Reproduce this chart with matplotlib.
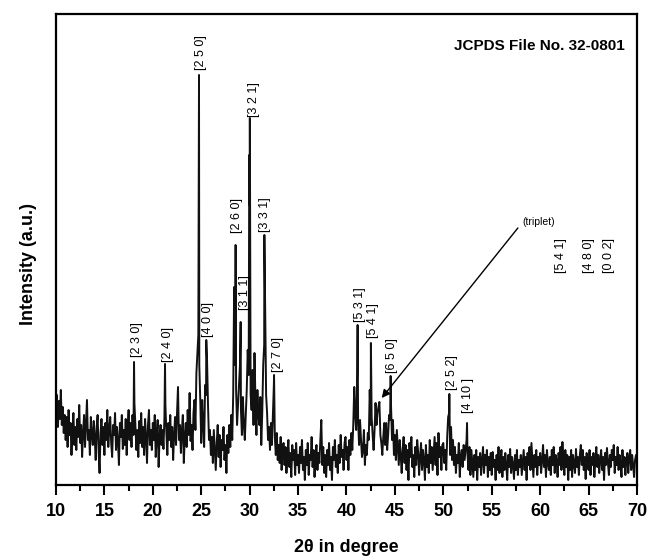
import numpy as np
import matplotlib.pyplot as plt
from matplotlib.ticker import MultipleLocator

plt.rcParams['font.family'] = ['Liberation Sans', 'DejaVu Sans']

# Background counts, one row per degree (10.0 .. 69.9, step 0.1), plus 70.0
bg_rows = [
    [72, 90, 58, 84, 66, 95, 60, 78, 52, 70],
    [45, 68, 38, 75, 50, 62, 30, 55, 72, 40],
    [58, 35, 66, 48, 80, 42, 60, 28, 52, 70],
    [38, 62, 85, 45, 55, 30, 68, 50, 40, 64],
    [48, 25, 58, 70, 35, 12, 52, 66, 40, 58],
    [30, 62, 45, 75, 38, 55, 68, 42, 28, 60],
    [50, 72, 35, 58, 44, 20, 62, 48, 70, 36],
    [55, 40, 66, 30, 58, 75, 45, 62, 38, 70],
    [50, 82, 60, 35, 55, 28, 64, 42, 72, 38],
    [58, 30, 66, 48, 22, 60, 75, 40, 55, 35],
    [62, 45, 70, 28, 50, 65, 18, 48, 60, 40],
    [55, 36, 68, 80, 52, 30, 62, 45, 70, 38],
    [58, 25, 50, 68, 40, 72, 98, 45, 60, 32],
    [55, 70, 22, 48, 62, 38, 75, 50, 92, 44],
    [60, 35, 72, 85, 55, 112, 130, 150, 120, 85],
    [42, 85, 60, 38, 100, 90, 125, 80, 45, 55],
    [30, 48, 22, 55, 35, 15, 42, 60, 28, 50],
    [18, 45, 35, 58, 25, 40, 12, 50, 32, 60],
    [38, 70, 45, 90, 198, 120, 95, 60, 80, 100],
    [120, 75, 50, 88, 60, 45, 70, 95, 135, 110],
    [280, 90, 75, 115, 60, 132, 85, 50, 95, 70],
    [60, 88, 40, 72, 120, 140, 178, 90, 72, 45],
    [58, 35, 62, 40, 70, 100, 48, 30, 52, 25],
    [40, 22, 48, 15, 35, 42, 20, 38, 12, 30],
    [45, 18, 32, 8, 40, 25, 35, 10, 42, 20],
    [30, 12, 38, 22, 45, 15, 28, 5, 35, 20],
    [42, 10, 30, 25, 48, 18, 35, 8, 28, 40],
    [15, 32, 22, 45, 65, 20, 38, 12, 30, 8],
    [35, 20, 42, 15, 28, 5, 38, 25, 45, 18],
    [30, 12, 40, 22, 50, 28, 35, 15, 42, 48],
    [25, 38, 15, 45, 30, 52, 35, 60, 98, 70],
    [55, 110, 65, 40, 65, 45, 28, 35, 55, 20],
    [40, 30, 52, 45, 95, 60, 68, 50, 35, 55],
    [82, 60, 72, 78, 83, 50, 42, 30, 48, 62],
    [40, 62, 35, 50, 70, 65, 80, 45, 65, 30],
    [50, 25, 55, 38, 20, 45, 30, 12, 35, 48],
    [22, 40, 15, 35, 5, 42, 28, 48, 18, 30],
    [8, 38, 20, 45, 33, 10, 28, 42, 15, 35],
    [25, 5, 40, 18, 30, 12, 45, 22, 38, 15],
    [32, 48, 20, 42, 10, 52, 28, 38, 15, 40],
    [42, 22, 35, 15, 48, 68, 72, 30, 58, 25],
    [45, 20, 38, 12, 30, 22, 42, 8, 28, 35],
    [18, 40, 25, 35, 45, 30, 15, 38, 10, 35],
    [22, 8, 30, 15, 35, 5, 28, 18, 32, 10],
    [25, 38, 12, 30, 20, 35, 8, 28, 15, 32],
    [10, 33, 18, 25, 5, 30, 15, 38, 12, 22],
    [35, 8, 28, 15, 32, 20, 5, 30, 18, 36],
    [12, 28, 20, 6, 30, 15, 35, 10, 25, 18],
    [30, 10, 22, 35, 15, 28, 5, 32, 20, 38],
    [15, 42, 25, 8, 30, 18, 35, 10, 28, 20],
    [32, 12, 25, 40, 18, 30, 8, 35, 22, 15],
    [28, 10, 35, 20, 38, 12, 30, 25, 8, 32],
    [20, 38, 15, 43, 25, 10, 35, 18, 30, 5],
    [28, 15, 35, 8, 30, 22, 12, 36, 18, 28],
    [10, 30, 40, 20, 35, 15, 28, 6, 32, 22],
    [15, 35, 10, 28, 20, 32, 8, 25, 38, 18],
    [30, 12, 25, 35, 15, 28, 5, 32, 20, 37],
    [22, 10, 30, 18, 35, 25, 40, 12, 28, 20],
    [38, 15, 30, 22, 8, 35, 18, 28, 10, 25],
    [32, 12, 28, 35, 15, 30, 20, 8, 25, 30],
]
bg_last = 22

# Sharp reflections (2theta, intensity)
peak_pos = [18.06, 21.26, 24.77, 25.52, 28.55, 29.07, 29.96, 30.02,
            31.52, 32.52, 41.15, 42.52, 44.56, 50.62, 52.45]
peak_int = [123, 121, 410, 145, 240, 163, 330, 367,
            250, 110, 160, 142, 109, 91, 62]

# hkl labels: text, x, bottom of label
hkl_text = ["[2 3 0]", "[2 4 0]", "[2 5 0]", "[4 0 0]", "[2 6 0]", "[3 1 1]",
            "[3 2 1]", "[3 3 1]", "[2 7 0]", "[5 3 1]", "[5 4 1]", "[6 5 0]",
            "[2 5 2]", "[4 10 ]", "[5 4 1]", "[4 8 0]", "[0 0 2]"]
hkl_x = [18.37, 21.57, 24.97, 25.70, 28.69, 29.52, 30.45, 31.58, 32.93,
         41.40, 42.74, 44.70, 50.90, 52.55, 62.2, 65.0, 67.1]
hkl_y = [128, 123, 415, 148, 252, 175, 368, 253, 113,
         163, 147, 112, 95, 72, 212, 212, 212]

bg = np.array([v for row in bg_rows for v in row] + [bg_last], dtype=float)
tt = np.round(np.arange(len(bg)) * 0.1 + 10.0, 2)

x = np.concatenate([tt, peak_pos])
y = np.concatenate([bg, peak_int])
order = np.argsort(x, kind='stable')
x, y = x[order], y[order]

fig = plt.figure(figsize=(6.48, 5.59), dpi=100)
ax = fig.add_axes([0.0864, 0.1324, 0.8966, 0.8426])

ax.plot(x, y, color='#111111', lw=1.4)

for t, hx, hy in zip(hkl_text, hkl_x, hkl_y):
    ax.text(hx, hy, t, rotation=90, ha='center', va='bottom', fontsize=9)

ax.annotate('', xy=(43.64, 87), xytext=(57.7, 257),
            arrowprops=dict(arrowstyle='-|>', color='k', lw=1.0,
                            mutation_scale=12, shrinkA=0, shrinkB=0))
ax.text(58.2, 263, "(triplet)", fontsize=7.5, ha='left', va='center')

ax.text(0.979, 0.932, "JCPDS File No. 32-0801", transform=ax.transAxes,
        ha='right', va='center', fontsize=11, fontweight='bold')

ax.set_xlim(10, 70)
ax.set_ylim(0, 471)
ax.xaxis.set_major_locator(MultipleLocator(5))
ax.xaxis.set_minor_locator(MultipleLocator(2.5))
ax.set_yticks([])
ax.tick_params(axis='x', which='major', direction='out', length=7, width=1.5,
               labelsize=13, pad=6)
ax.tick_params(axis='x', which='minor', direction='out', length=4, width=1.5)
for lab in ax.get_xticklabels():
    lab.set_fontweight('bold')
for s in ax.spines.values():
    s.set_linewidth(1.6)

ax.set_xlabel("2θ in degree", fontsize=13, fontweight='bold', labelpad=14)
ax.set_ylabel("Intensity (a.u.)", fontsize=13, fontweight='bold')
ax.yaxis.set_label_coords(-0.033, 0.47)

fig.savefig("out.png", dpi=100)
